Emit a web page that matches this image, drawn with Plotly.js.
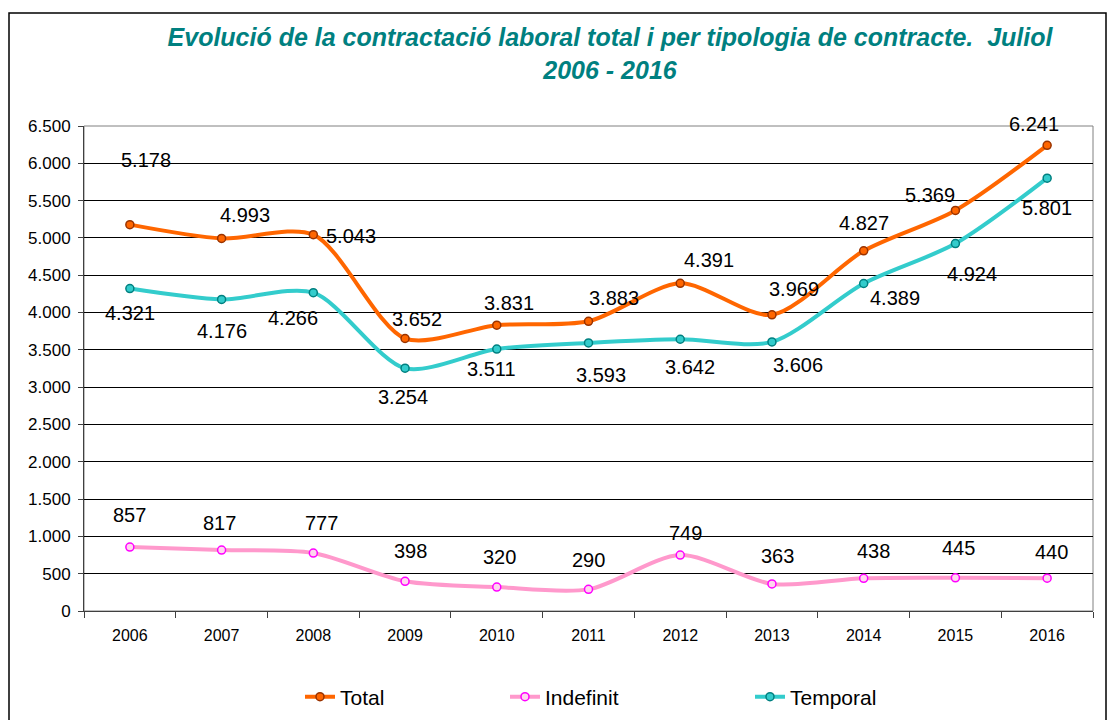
<!DOCTYPE html>
<html>
<head>
<meta charset="utf-8">
<script src="https://cdn.plot.ly/plotly-3.0.1.min.js"></script>
<style>
  html, body { margin: 0; padding: 0; background: #ffffff; }
  #chart { width: 1109px; height: 720px; }
</style>
</head>
<body>
<div id="chart"></div>
<script>
// ---- Data ----
const years = ['2006', '2007', '2008', '2009', '2010', '2011', '2012', '2013', '2014', '2015', '2016'];
const total = [5178, 4993, 5043, 3652, 3831, 3883, 4391, 3969, 4827, 5369, 6241];
const indefinit = [857, 817, 777, 398, 320, 290, 749, 363, 438, 445, 440];
const temporal = [4321, 4176, 4266, 3254, 3511, 3593, 3642, 3606, 4389, 4924, 5801];
const seriesNames = ['Total', 'Indefinit', 'Temporal'];
const titleText = 'Evolució de la contractació laboral total i per tipologia de contracte.  Juliol<br>2006 - 2016';

// ---- Label placement (pixel offsets from each point, [dx, dy] screen) ----
const totalLabelOffset = [[16,-65],[23,-23],[38,1],[12,-20],[12,-22],[25,-23],[29,-23],[22,-26],[0,-28],[-25,-15],[-13,-21]];
const indefLabelOffset = [[0,-32],[-2,-27],[8,-30],[5,-30],[3,-30],[0,-29],[5,-22],[6,-28],[10,-27],[3,-30],[4,-26]];
const tempLabelOffset  = [[0,24],[0,32],[-20,25],[-2,29],[-5,20],[12,32],[10,28],[26,23],[31,14],[17,30],[0,30]];

function fmt(v) {
  return String(v).replace(/\B(?=(\d{3})+(?!\d))/g, '.');
}

const FONT = 'Liberation Sans, Arial, sans-serif';

const styles = {
  Total:     { line: '#FF6600', fill: '#FF6600', edge: '#993300' },
  Indefinit: { line: '#FF99CC', fill: '#FFD6EE', edge: '#FF00FF' },
  Temporal:  { line: '#33CCCC', fill: '#33CCCC', edge: '#008080' }
};

function mkTrace(name, values, legendId) {
  const s = styles[name];
  return {
    type: 'scatter', mode: 'lines+markers', name: name,
    x: years, y: values,
    line: { color: s.line, width: 4, shape: 'spline', smoothing: 0.8 },
    marker: { symbol: 'circle', size: 8, color: s.fill, line: { color: s.edge, width: 1.5 } },
    hoverinfo: 'skip',
    legend: legendId
  };
}

const traces = [
  mkTrace(seriesNames[0], total, 'legend'),
  mkTrace(seriesNames[1], indefinit, 'legend2'),
  mkTrace(seriesNames[2], temporal, 'legend3')
];

const labelAnnotations = [];
function addLabels(values, offsets) {
  values.forEach((v, i) => {
    labelAnnotations.push({
      x: i, y: v, xref: 'x', yref: 'y',
      text: fmt(v), showarrow: false,
      xshift: offsets[i][0], yshift: -offsets[i][1],
      font: { family: FONT, size: 20, color: '#000000' }
    });
  });
}
addLabels(total, totalLabelOffset);
addLabels(indefinit, indefLabelOffset);
addLabels(temporal, tempLabelOffset);

// plot area in px: left 84, right 1093, top 126, bottom 611
const L = 84, R = 16, T = 126, B = 109;
const pw = 1109 - L - R, ph = 720 - T - B;
const px = x => (x - L) / pw;
const py = y => (720 - B - y) / ph;

const legendCommon = {
  orientation: 'h', yanchor: 'middle', xanchor: 'left',
  bgcolor: 'rgba(0,0,0,0)', borderwidth: 0,
  font: { family: FONT, size: 21, color: '#000000' },
  itemwidth: 30
};

const layout = {
  width: 1109, height: 720,
  margin: { l: L, r: R, t: T, b: B, autoexpand: false },
  paper_bgcolor: '#ffffff', plot_bgcolor: '#ffffff',
  separators: ',.',
  showlegend: true,
  title: {
    text: titleText, xref: 'paper', x: px(610), xanchor: 'center',
    yref: 'container', y: 1 - 46 / 720, yanchor: 'middle',
    font: { family: FONT, size: 25, color: '#008080', weight: 'bold', style: 'italic' }
  },
  xaxis: {
    type: 'category', range: [-0.5, 10.5], automargin: false,
    showgrid: false, zeroline: false,
    showline: true, linecolor: '#404040', linewidth: 1,
    ticks: 'outside', tickson: 'boundaries', ticklen: 6, tickcolor: '#404040',
    tickfont: { family: FONT, size: 16, color: '#000000' },
    ticklabelstandoff: 10,
    fixedrange: true
  },
  yaxis: {
    range: [0, 6500], dtick: 500, tick0: 0, tickformat: ',d', automargin: false,
    showgrid: true, gridcolor: '#000000', gridwidth: 1,
    zeroline: false,
    showline: true, linecolor: '#404040', linewidth: 1,
    ticks: 'outside', ticklen: 5, tickcolor: '#404040',
    tickfont: { family: FONT, size: 17, color: '#000000' },
    ticklabelstandoff: 4,
    fixedrange: true
  },
  legend:  Object.assign({}, legendCommon, { x: px(300), y: py(697) }),
  legend2: Object.assign({}, legendCommon, { x: px(505), y: py(697) }),
  legend3: Object.assign({}, legendCommon, { x: px(750), y: py(697) }),
  annotations: labelAnnotations,
  shapes: [
    { type: 'rect', xref: 'paper', yref: 'paper', x0: 0, x1: 1, y0: 0, y1: 1,
      line: { color: '#808080', width: 1 }, layer: 'below' },
    { type: 'rect', xref: 'paper', yref: 'paper', x0: px(9), x1: px(1106), y0: py(730), y1: py(13),
      line: { color: '#000000', width: 1.5 }, fillcolor: 'rgba(0,0,0,0)', layer: 'below' }
  ]
};

Plotly.newPlot('chart', traces, layout, { displayModeBar: false });
</script>
</body>
</html>
